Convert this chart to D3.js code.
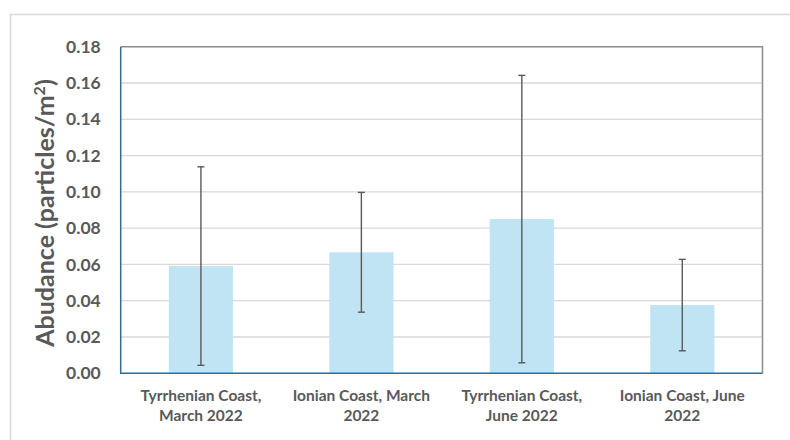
<!DOCTYPE html>
<html><head><meta charset="utf-8">
<script src="https://cdn.jsdelivr.net/npm/d3@7"></script>
<style>html,body{margin:0;padding:0;background:#fff;} svg{display:block;}</style>
</head><body>
<script>
const categories = [["Tyrrhenian Coast,","March 2022"],["Ionian Coast, March","2022"],["Tyrrhenian Coast,","June 2022"],["Ionian Coast, June","2022"]];
const values = [0.0591, 0.0667, 0.0850, 0.0376];
const errors = [0.0547, 0.0330, 0.0792, 0.0252];
const yTicks = [0,0.02,0.04,0.06,0.08,0.10,0.12,0.14,0.16,0.18];
const yTitleParts = ["Abudance (particles/m", "2", ")"];

const W=790,H=440;
const svg=d3.select("body").append("svg").attr("width",W).attr("height",H);
const font="Lato, 'Open Sans', sans-serif";
// outer frame
svg.append("path").attr("d","M10.5,440 V14.5 H790").attr("fill","none").attr("stroke","#d9d9d9").attr("stroke-width",1.5);

const L=120.7,R=762.5,T=46.7,B=373.3;
const x=d3.scaleBand().domain(d3.range(categories.length)).range([L,R]).paddingInner(0.6).paddingOuter(0.3);
const y=d3.scaleLinear().domain([0,0.18]).range([B,T]);

// gridlines
svg.append("g").selectAll("line").data(yTicks.slice(1,-1)).join("line")
  .attr("x1",L).attr("x2",R).attr("y1",d=>y(d)).attr("y2",d=>y(d))
  .attr("stroke","#d9d9d9").attr("stroke-width",1.3);

// bars
svg.append("g").selectAll("rect").data(values).join("rect")
  .attr("x",(d,i)=>x(i)).attr("width",x.bandwidth())
  .attr("y",d=>y(d)).attr("height",d=>B-y(d)).attr("fill","#c0e4f4");

// error bars
const eg=svg.append("g").attr("stroke","#595959").attr("stroke-width",1.4);
values.forEach((v,i)=>{
  const cx=x(i)+x.bandwidth()/2;
  eg.append("line").attr("x1",cx).attr("x2",cx).attr("y1",y(v+errors[i])).attr("y2",y(v-errors[i]));
  eg.append("line").attr("x1",cx-3.5).attr("x2",cx+3.5).attr("y1",y(v+errors[i])).attr("y2",y(v+errors[i]));
  eg.append("line").attr("x1",cx-3.5).attr("x2",cx+3.5).attr("y1",y(v-errors[i])).attr("y2",y(v-errors[i]));
});

// plot border
svg.append("path").attr("d",`M${L},${T} H${R} V${B}`).attr("fill","none").attr("stroke","#8c8c8c").attr("stroke-width",1.5);
svg.append("path").attr("d",`M${L},${T} V${B} H${R}`).attr("fill","none").attr("stroke","#2f6d99").attr("stroke-width",1.5);

// y axis labels
const yAxis=d3.axisLeft(y).tickValues(yTicks).tickFormat(d3.format(".2f")).tickSize(0).tickPadding(20);
const ya=svg.append("g").attr("transform",`translate(${L},0)`).call(yAxis);
ya.select(".domain").remove();
ya.selectAll("text").attr("font-family",font).attr("font-weight","bold").attr("font-size",17.5).attr("fill","#595959");

// x labels
const xl=svg.append("g");
categories.forEach((c,i)=>{
  const cx=x(i)+x.bandwidth()/2;
  const t=xl.append("text").attr("text-anchor","middle").attr("font-family",font).attr("font-weight","bold").attr("font-size",15.5).attr("fill","#595959");
  t.append("tspan").attr("x",cx).attr("y",401).text(c[0]);
  t.append("tspan").attr("x",cx).attr("y",421).text(c[1]);
});

// y title
const yt=svg.append("text").attr("transform",`translate(54,${(T+B)/2+3}) rotate(-90)`).attr("text-anchor","middle")
  .attr("font-family",font).attr("font-weight","bold").attr("font-size",25).attr("fill","#595959");
yt.append("tspan").text(yTitleParts[0]);
yt.append("tspan").attr("font-size",16).attr("dy",-9).text(yTitleParts[1]);
yt.append("tspan").attr("dy",9).text(yTitleParts[2]);
</script>
</body></html>
